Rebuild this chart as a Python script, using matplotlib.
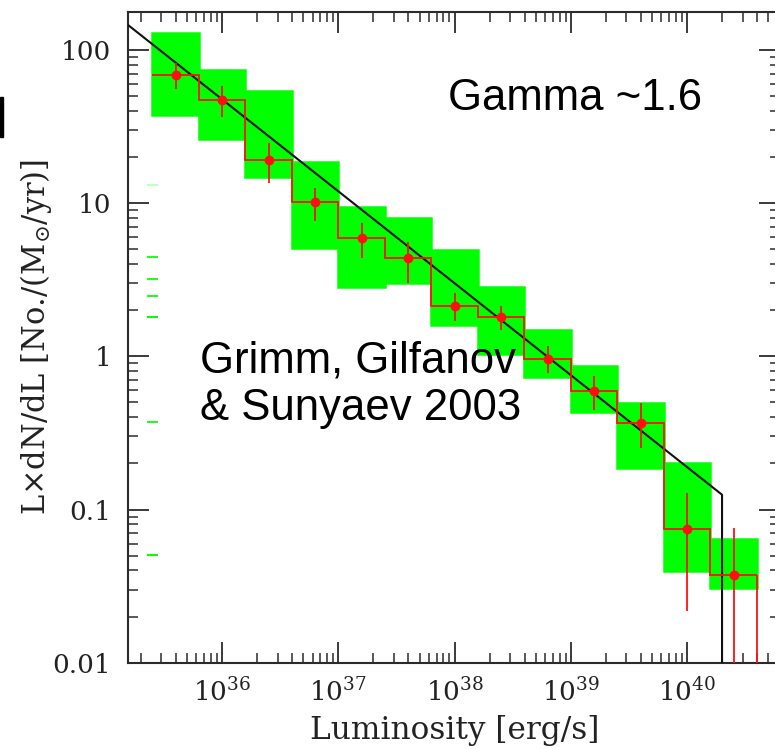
import numpy as np
import matplotlib
matplotlib.use("Agg")
import matplotlib.pyplot as plt
from matplotlib.ticker import LogLocator, FixedLocator, FixedFormatter, NullFormatter
from matplotlib.patches import Rectangle

plt.rcParams['mathtext.fontset'] = 'dejavuserif'
plt.rcParams['font.family'] = ['DejaVu Serif']

# log10 of luminosity bin edges [erg/s]
log_edges = [35.4, 35.8, 36.2, 36.6, 37.0, 37.4, 37.8, 38.2, 38.6, 39.0, 39.4, 39.8, 40.2, 40.6]
# differential luminosity function L dN/dL per bin
values = [68.7, 47.2, 19.1, 10.2, 5.93, 4.37, 2.13, 1.82, 0.957, 0.597, 0.369, 0.0743, 0.0374]
err_hi = [82.6, 58.2, 24.7, 12.6, 7.43, 5.61, 2.58, 2.13, 1.17, 0.745, 0.494, 0.129, 0.0755]
err_lo = [55.4, 36.6, 13.6, 7.66, 4.38, 3.0, 1.71, 1.49, 0.776, 0.447, 0.254, 0.0219, 0.0]
# spread between galaxies (shaded boxes)
band_hi = [128.5, 74.0, 54.0, 18.6, 9.44, 7.96, 4.96, 2.85, 1.49, 0.865, 0.499, 0.202, 0.064]
band_lo = [37.7, 26.2, 14.8, 5.1, 2.84, 3.0, 1.6, 1.04, 0.736, 0.43, 0.186, 0.0394, 0.0306]

# power-law model: L dN/dL = norm * (L / 1e38)^(1 - gamma), cut off at L_cut
gamma = 1.6
norm = 3.0
L_cut = 2e40

y_ticks = [0.01, 0.1, 1, 10, 100]
y_tick_labels = ["0.01", "0.1", "1", "10", "100"]
x_tick_exponents = [36, 37, 38, 39, 40]

# short green marks left over along the left axis (value, opacity)
stray_marks = [13.1, 4.48, 3.2, 2.48, 1.81, 0.372, 0.0506]
stray_alpha = [0.25, 0.9, 0.9, 0.9, 1.0, 0.9, 1.0]

GREEN = "#00ff00"
RED = "#ff1010"
INK = "#2b2b2b"

fig = plt.figure(figsize=(7.75, 7.49), dpi=100)
ax = fig.add_axes([0.1652, 0.1152, 0.8413, 0.8688])
ax.set_xscale("log")
ax.set_yscale("log")
ax.set_xlim(10 ** 35.19, 10 ** 40.80)
ax.set_ylim(0.01, 10 ** 2.248)

edges = 10.0 ** np.array(log_edges)
centers = 10.0 ** (0.5 * (np.array(log_edges[:-1]) + np.array(log_edges[1:])))
vals = np.array(values)
lo_b = np.array(band_lo)
hi_b = np.array(band_hi)

# shaded spread boxes
ax.bar(edges[:-1], hi_b - lo_b, width=np.diff(edges), bottom=lo_b, align="edge",
       color=GREEN, edgecolor=GREEN, linewidth=1.8, zorder=1)

# model line with the high-luminosity cut-off
x_model = np.logspace(35.0, np.log10(L_cut), 60)
y_model = norm * (x_model / 1e38) ** (1.0 - gamma)
x_model = np.append(x_model, L_cut)
y_model = np.append(y_model, 1e-4)
ax.plot(x_model, y_model, color="#111111", lw=1.5, zorder=3)

# histogram
ax.stairs(vals, edges, baseline=None, color=RED, lw=1.3, zorder=4)
ax.vlines(edges[-1], 1e-4, vals[-1], color=RED, lw=1.3, zorder=4)

# error bars and points
ax.vlines(centers, np.maximum(np.array(err_lo), 1e-4), np.array(err_hi),
          color=RED, lw=1.3, zorder=5)
ax.plot(centers, vals, "o", color=RED, ms=6, mec=RED, zorder=6)

# stray marks
for yv, a in zip(stray_marks, stray_alpha):
    ax.plot([0.031, 0.045], [yv, yv], transform=ax.get_yaxis_transform(),
            color=GREEN, lw=1.4, alpha=a, zorder=2, clip_on=False)

# axes styling
for sp in ax.spines.values():
    sp.set_color(INK)
    sp.set_linewidth(1.5)

ax.xaxis.set_major_locator(FixedLocator([10.0 ** e for e in x_tick_exponents]))
ax.xaxis.set_major_formatter(FixedFormatter([r"$10^{%d}$" % e for e in x_tick_exponents]))
ax.xaxis.set_minor_locator(LogLocator(base=10, subs=np.arange(2, 10), numticks=20))
ax.xaxis.set_minor_formatter(NullFormatter())
ax.yaxis.set_major_locator(FixedLocator(y_ticks))
ax.yaxis.set_major_formatter(FixedFormatter(y_tick_labels))
ax.yaxis.set_minor_locator(LogLocator(base=10, subs=np.arange(2, 10), numticks=20))
ax.yaxis.set_minor_formatter(NullFormatter())

ax.tick_params(which="both", direction="in", top=True, right=True, color=INK,
               labelcolor="#222222", labelsize=19)
ax.tick_params(which="major", length=15, width=1.3)
ax.tick_params(which="minor", length=7, width=1.1)
ax.tick_params(axis="y", pad=12)
ax.tick_params(axis="x", pad=11)

ax.set_xlabel("Luminosity [erg/s]", fontsize=22.5, color="#222222")
ax.set_ylabel(r"L$\times$dN/dL [No./(M$_{\odot}$/yr)]", fontsize=22,
              color="#222222")
ax.xaxis.set_label_coords(0.5 * (307 + 602) / 775 * 775 / 652 - 128 / 652, -(730 - 662.7) / 650.7)
ax.yaxis.set_label_coords((36 - 128) / 652, 0.5)
ax.xaxis.label.set_va("center")
ax.yaxis.label.set_va("center")

# annotations
ax.text(448 / 775, 1 - 110 / 749, "Gamma ~1.6", transform=fig.transFigure,
        fontsize=31.5, family="Liberation Sans", color="black", va="baseline")
ax.text(200 / 775, 1 - 420 / 749, "Grimm, Gilfanov\n& Sunyaev 2003",
        transform=fig.transFigure, fontsize=31.5, family="Liberation Sans",
        color="black", va="baseline", linespacing=1.2)

# edge bar at the far left
fig.patches.append(Rectangle((0, 1 - 137 / 749), 3 / 775, 40 / 749,
                             transform=fig.transFigure, color="black"))

fig.savefig("out.png", dpi=100)
